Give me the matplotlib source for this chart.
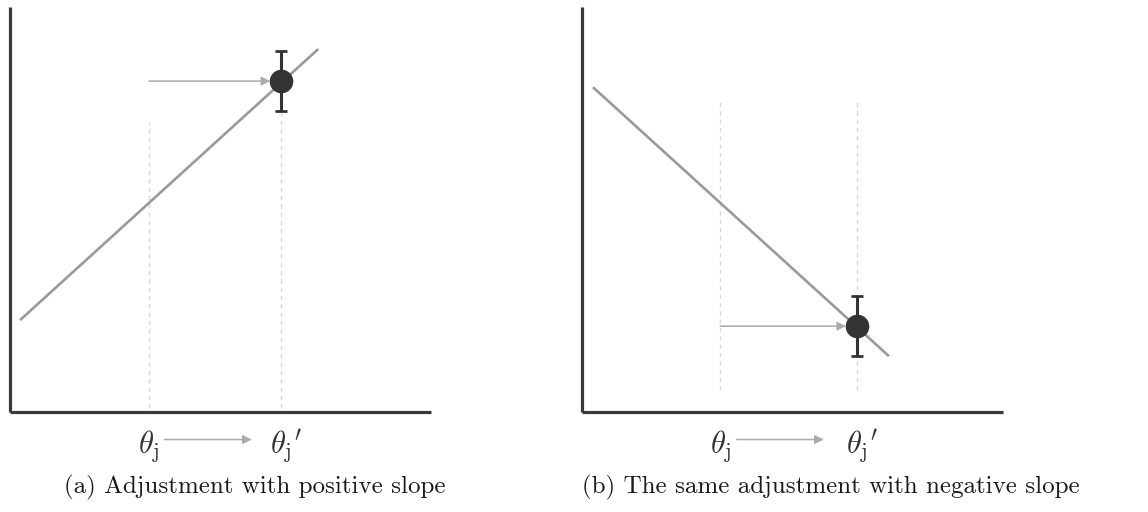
import matplotlib
matplotlib.use("Agg")
import matplotlib.pyplot as plt
from matplotlib.transforms import blended_transform_factory

plt.rcParams["mathtext.fontset"] = "cm"

# Panel (a): positive slope
line_a_x = [0.24, 7.32]
line_a_y = [2.27, 8.96]
theta_a = 3.30
theta_a_new = 6.44
point_a_y = 8.17
err_a = 0.74
guide_a_top = 7.16

# Panel (b): negative slope
line_b_x = [0.26, 7.29]
line_b_y = [8.02, 1.38]
theta_b = 3.28
theta_b_new = 6.53
point_b_y = 2.12
err_b = 0.74
guide_b = (0.54, 7.70)

captions = ["(a) Adjustment with positive slope",
            "(b) The same adjustment with negative slope"]
label_old = r"$\theta_{\mathrm{j}}$"
label_new = r"$\theta_{\mathrm{j}}{}^{\prime}$"

LINE = "#9a9a9a"
AXIS = "#3a3a3a"
DOT = "#333333"
GUIDE = "#d9d9d9"
ARROW = "#ababab"

fig = plt.figure(figsize=(11.48, 5.12), dpi=100)
W, H = 1148, 512
ax_a = fig.add_axes([10 / W, (512 - 412) / H, 421 / W, 405 / H])
ax_b = fig.add_axes([582 / W, (512 - 412) / H, 421 / W, 405 / H])


def style(ax):
    ax.set_xlim(0, 10)
    ax.set_ylim(0, 10)
    for s in ("top", "right"):
        ax.spines[s].set_visible(False)
    for s in ("left", "bottom"):
        ax.spines[s].set_color(AXIS)
        ax.spines[s].set_linewidth(2.3)
        ax.spines[s].set_capstyle("butt")
    ax.set_xticks([])
    ax.set_yticks([])
    ax.patch.set_alpha(0)


def panel(ax, lx, ly, t0, t1, py, err, g0, g1, caption, cap_x):
    style(ax)
    ax.plot([t0, t0], g0, color=GUIDE, lw=1.0, ls=(0, (3, 3)), zorder=1)
    ax.plot([t1, t1], g1, color=GUIDE, lw=1.0, ls=(0, (3, 3)), zorder=1)
    ax.plot(lx, ly, color=LINE, lw=1.9, solid_capstyle="butt", zorder=2)
    ax.annotate("", xy=(t1 - 0.26, py), xytext=(t0, py),
                arrowprops=dict(arrowstyle="-|>", color=ARROW, lw=1.1,
                                mutation_scale=13, shrinkA=0, shrinkB=0),
                zorder=3)
    ax.errorbar([t1], [py], yerr=[err], fmt="o", color=DOT, ms=16,
                elinewidth=2.2, capsize=4.0, capthick=2.0, zorder=4)
    tr = blended_transform_factory(ax.transData, ax.transAxes)
    ax.text(t0, -0.085, label_old, transform=tr, ha="center", va="center",
            fontsize=22, color="#333333")
    ax.text(t1 + 0.12, -0.085, label_new, transform=tr, ha="center",
            va="center", fontsize=22, color="#333333")
    ax.annotate("", xy=(5.74, -0.068), xytext=(3.67, -0.068),
                xycoords=tr, textcoords=tr,
                arrowprops=dict(arrowstyle="-|>", color=ARROW, lw=1.1,
                                mutation_scale=13, shrinkA=0, shrinkB=0))
    fig.text(cap_x / W, 1 - 487 / H, caption, ha="left", va="center",
             fontsize=18, family="cmr10", color="#1a1a1a")


panel(ax_a, line_a_x, line_a_y, theta_a, theta_a_new, point_a_y, err_a,
      [0.1, guide_a_top], [0.1, point_a_y], captions[0], 64)
panel(ax_b, line_b_x, line_b_y, theta_b, theta_b_new, point_b_y, err_b,
      list(guide_b), list(guide_b), captions[1], 582)

fig.savefig("out.png", dpi=100)
